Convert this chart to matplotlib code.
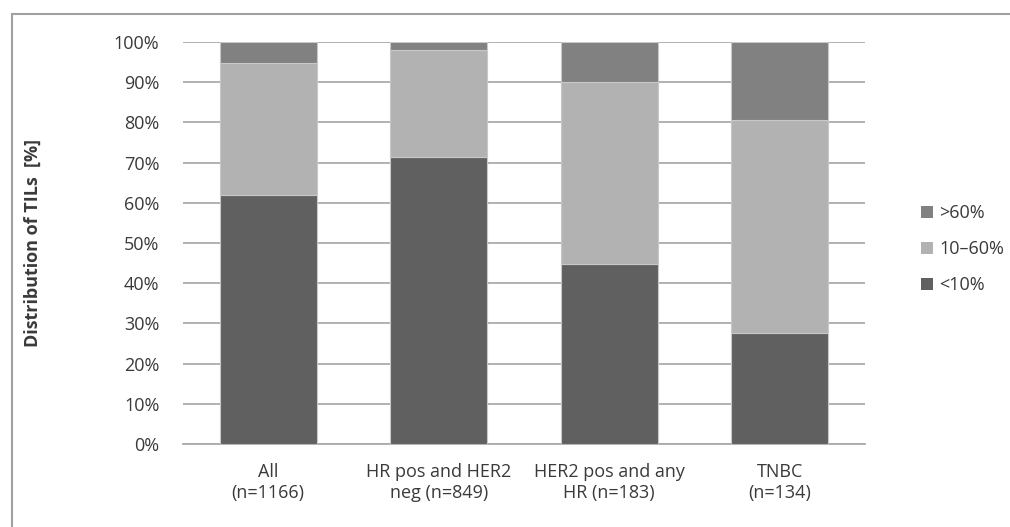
import matplotlib.pyplot as plt
import numpy as np
from matplotlib.patches import Rectangle, Patch

plt.rcParams['font.family'] = ['Open Sans', 'DejaVu Sans']

# datos
grupos = ['All\n(n=1166)', 'HR pos and HER2\nneg (n=849)', 'HER2 pos and any\nHR (n=183)', 'TNBC\n(n=134)']
bajo = [61.9, 71.3, 44.9, 27.5]      # <10%
medio = [32.9, 26.6, 45.2, 53.1]     # 10-60%
alto = [5.2, 2.1, 9.9, 19.4]         # >60%
series = ['<10%', '10\u201360%', '>60%']
colores = ['#606060', '#b2b2b2', '#818181']

fig = plt.figure(figsize=(10.1, 5.27), dpi=100)
ax = fig.add_axes([183/1010, 83/527, 682/1010, 402/527])

x = np.arange(len(grupos))
ancho = 0.57
base = np.zeros(len(grupos))
for vals, nombre, col in zip([bajo, medio, alto], series, colores):
    ax.bar(x, vals, ancho, bottom=base, color=col, edgecolor='#c8c8c8', linewidth=0.8, label=nombre, zorder=3)
    base = base + np.array(vals)

ax.set_xlim(-0.5, len(grupos) - 0.5)
ax.set_ylim(0, 100)
ax.set_yticks(np.arange(0, 101, 10))
ax.set_yticklabels([f'{v}%' for v in range(0, 101, 10)])
ax.yaxis.grid(True, color='#ababab', linewidth=1.3, zorder=0)
ax.set_xticks(x)
ax.set_xticklabels(grupos, linespacing=1.15)
for s in ['top', 'right', 'left']:
    ax.spines[s].set_visible(False)
ax.spines['bottom'].set_color('#ababab')
ax.spines['bottom'].set_linewidth(1.3)
ax.tick_params(axis='y', length=0, pad=17, labelsize=13, labelcolor='#3a3a3a')
ax.tick_params(axis='x', length=0, pad=14, labelsize=13, labelcolor='#3a3a3a')
ax.set_ylabel('Distribution of TILs  [%]', fontsize=13, fontweight='bold', color='#3a3a3a')
ax.yaxis.set_label_coords(-(183 - 42) / 682, 0.5)

# leyenda (orden invertido)
handles = [Patch(facecolor=c, edgecolor='none') for c in colores][::-1]
fig.legend(handles, series[::-1], loc='center left', bbox_to_anchor=(905/1010, 1 - 249/527),
           frameon=False, fontsize=13, handlelength=0.65, handleheight=0.65,
           handletextpad=0.35, labelspacing=1.0, labelcolor='#3a3a3a')

# marco exterior
fig.patches.append(Rectangle((12/1010, -0.1), 1.1, (527 - 14)/527 + 0.1, transform=fig.transFigure,
                             fill=False, edgecolor='#a0a0a0', linewidth=1.5))

fig.savefig('out.png', dpi=100)
